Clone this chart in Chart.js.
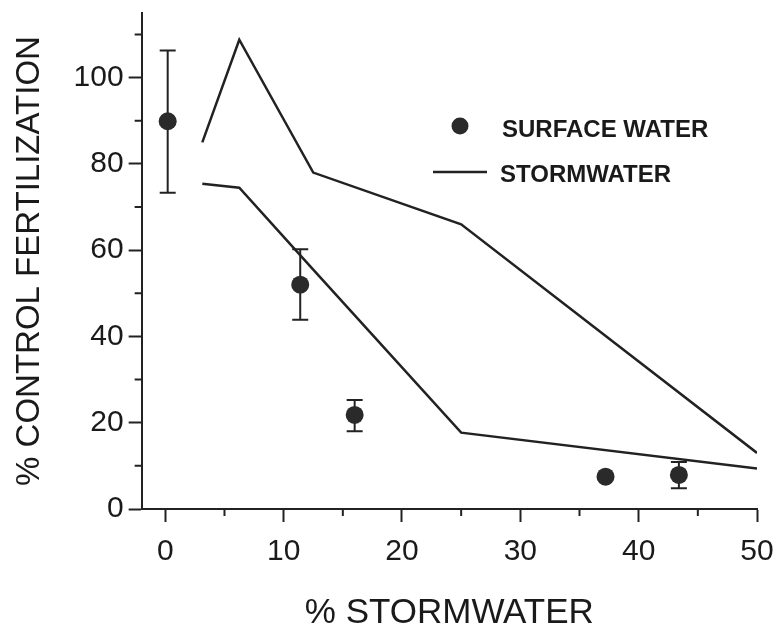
<!DOCTYPE html>
<html lang="en">
<head>
    <meta charset="UTF-8">
    <title>Control fertilization vs stormwater</title>
    <style>
        body { margin: 0; background: #fff; }
        #wrap { width: 774px; height: 641px; }
    </style>
</head>
<body>
<div id="wrap"><canvas id="chart"></canvas></div>

<script src="https://cdn.jsdelivr.net/npm/chart.js"></script>
<script>
  // surface water samples (mean and error bar ends)
  const surfaceX = [0.2, 11.4, 16.0, 37.2, 43.4];
  const surfaceY = [89.9, 52, 21.8, 7.5, 7.9];
  const surfaceLow = [73.3, 43.9, 18, 7.5, 4.8];
  const surfaceHigh = [106.3, 60.2, 25.3, 7.5, 10.9];

  // stormwater dilution series, two curves
  const stormX = [3.125, 6.25, 12.5, 25, 50];
  const stormUpper = [85, 108.8, 78, 66, 13];
  const stormLower = [75.4, 74.5, 55.5, 17.7, 9.4];

  const xMinor = [5, 15, 25, 35, 45];
  const yMinor = [10, 30, 50, 70, 90, 110];

  const ink = '#222';
  const fontFamily = "'Liberation Sans', Arial, sans-serif";

  function pts(xs, ys) {
    return xs.map((x, i) => ({ x: x, y: ys[i] }));
  }

  const errorBars = {
    id: 'errorBars',
    beforeDatasetsDraw(chart) {
      const ctx = chart.ctx;
      const xs = chart.scales.x, ys = chart.scales.y;
      ctx.save();
      ctx.strokeStyle = ink;
      ctx.lineWidth = 2;
      surfaceX.forEach((x, i) => {
        if (surfaceHigh[i] - surfaceLow[i] < 0.5) return;
        const px = xs.getPixelForValue(x);
        const top = ys.getPixelForValue(surfaceHigh[i]);
        const bot = ys.getPixelForValue(surfaceLow[i]);
        ctx.beginPath();
        ctx.moveTo(px, top); ctx.lineTo(px, bot);
        ctx.moveTo(px - 8, top); ctx.lineTo(px + 8, top);
        ctx.moveTo(px - 8, bot); ctx.lineTo(px + 8, bot);
        ctx.stroke();
      });
      ctx.restore();
    }
  };

  const minorTicks = {
    id: 'minorTicks',
    afterDraw(chart) {
      const ctx = chart.ctx;
      const xs = chart.scales.x, ys = chart.scales.y;
      const area = chart.chartArea;
      ctx.save();
      ctx.strokeStyle = ink;
      ctx.lineWidth = 2;
      ctx.beginPath();
      xMinor.forEach(v => {
        const px = xs.getPixelForValue(v);
        ctx.moveTo(px, area.bottom); ctx.lineTo(px, area.bottom + 7);
      });
      yMinor.forEach(v => {
        const py = ys.getPixelForValue(v);
        ctx.moveTo(area.left, py); ctx.lineTo(area.left - 7, py);
      });
      ctx.stroke();
      ctx.restore();
    }
  };

  const innerLegend = {
    id: 'innerLegend',
    afterDraw(chart) {
      const ctx = chart.ctx;
      ctx.save();
      ctx.fillStyle = '#2a2a2a';
      ctx.beginPath();
      ctx.arc(460, 126, 8.5, 0, Math.PI * 2);
      ctx.fill();
      ctx.strokeStyle = ink;
      ctx.lineWidth = 2.5;
      ctx.beginPath();
      ctx.moveTo(433, 172); ctx.lineTo(487, 172);
      ctx.stroke();
      ctx.fillStyle = '#1a1a1a';
      ctx.font = 'bold 24px ' + fontFamily;
      ctx.textBaseline = 'middle';
      ctx.fillText('SURFACE WATER', 502, 130);
      ctx.fillText('STORMWATER', 500, 175);
      ctx.restore();
    }
  };

  new Chart(document.getElementById('chart'), {
    type: 'scatter',
    data: {
      datasets: [{
        label: 'SURFACE WATER',
        data: pts(surfaceX, surfaceY),
        backgroundColor: '#2a2a2a',
        borderWidth: 0,
        pointRadius: 9,
        pointHoverRadius: 9
      }, {
        label: 'STORMWATER',
        data: pts(stormX, stormUpper),
        showLine: true,
        borderColor: ink,
        borderWidth: 2.5,
        pointRadius: 0,
        tension: 0
      }, {
        label: 'STORMWATER',
        data: pts(stormX, stormLower),
        showLine: true,
        borderColor: ink,
        borderWidth: 2.5,
        pointRadius: 0,
        tension: 0
      }]
    },
    options: {
      responsive: true,
      maintainAspectRatio: false,
      animation: false,
      layout: { padding: { left: 5, right: 0, top: 13, bottom: 0 } },
      plugins: {
        legend: { display: false },
        tooltip: { enabled: false }
      },
      scales: {
        x: {
          type: 'linear',
          min: -2,
          max: 50,
          afterFit(scale) { scale.paddingRight = 17; },
          border: { display: true, color: ink, width: 2 },
          grid: { drawOnChartArea: false, drawTicks: true, tickLength: 13, tickColor: ink, tickWidth: 2 },
          ticks: {
            stepSize: 10,
            includeBounds: false,
            padding: 12,
            color: '#1a1a1a',
            font: { family: fontFamily, size: 30 }
          },
          title: {
            display: true,
            text: '% STORMWATER',
            color: '#1a1a1a',
            font: { family: fontFamily, size: 35 },
            padding: { top: 10, bottom: 7 }
          }
        },
        y: {
          type: 'linear',
          min: 0,
          max: 115,
          border: { display: true, color: ink, width: 2 },
          grid: { drawOnChartArea: false, drawTicks: true, tickLength: 13, tickColor: ink, tickWidth: 2 },
          ticks: {
            stepSize: 20,
            includeBounds: false,
            padding: 5,
            color: '#1a1a1a',
            font: { family: fontFamily, size: 30, lineHeight: 0.4 }
          },
          title: {
            display: true,
            text: '% CONTROL FERTILIZATION',
            color: '#1a1a1a',
            font: { family: fontFamily, size: 33 },
            padding: { top: 5, bottom: 19 }
          }
        }
      }
    },
    plugins: [errorBars, minorTicks, innerLegend]
  });
</script>
</body>
</html>
